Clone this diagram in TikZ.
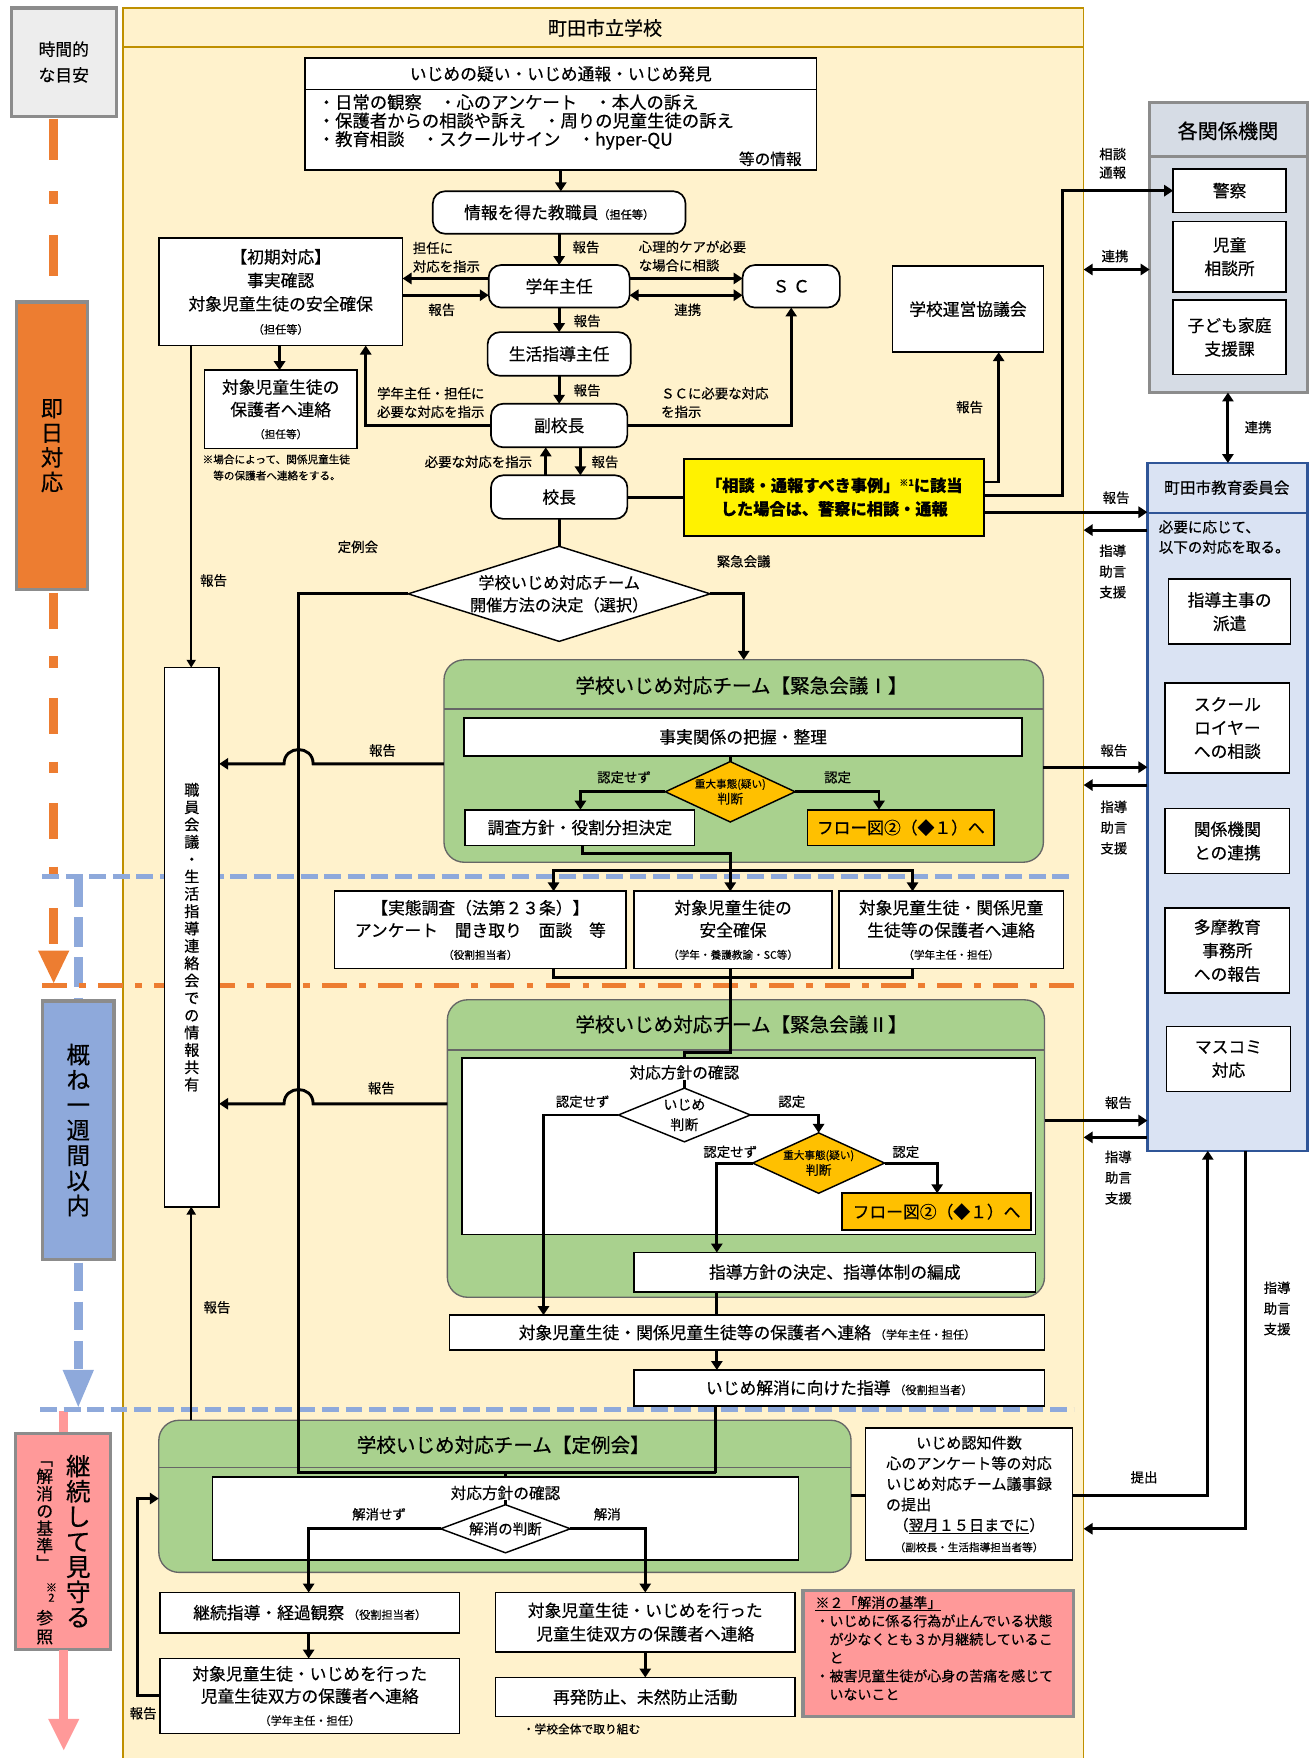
\documentclass[tikz,border=0pt]{standalone}
\usepackage{fontspec}
\setmainfont{Noto Sans CJK JP}[FakeBold=0.45]
\usetikzlibrary{arrows.meta,shapes.geometric}
\newcommand\fsz[2]{\fontsize{#1}{#2}\selectfont}
\newcommand\mybox[7]{\node[#6,minimum width={(#4)-(#2)},minimum height={(#5)-(#3)}] (#1) at ({((#2)+(#4))/2},{((#3)+(#5))/2}) {#7};}
\definecolor{schoolf}{HTML}{FFF2CC}
\definecolor{schoolb}{HTML}{BF9000}
\definecolor{greenf}{HTML}{A9D18E}
\definecolor{orangef}{HTML}{FFC000}
\definecolor{tlorange}{HTML}{ED7D31}
\definecolor{tlblue}{HTML}{8EA9DB}
\definecolor{tlpink}{HTML}{FF9999}
\definecolor{kankeif}{HTML}{D6DCE5}
\definecolor{kyoif}{HTML}{DAE3F3}
\definecolor{kyoib}{HTML}{2F5597}
\definecolor{grayb}{HTML}{8C8C8C}
\definecolor{tlgray}{HTML}{EDEDED}
\tikzset{
 bbox/.style={draw,line width=1.5pt,fill=white,align=center,inner sep=0pt,outer sep=0pt,font=\fsz{15}{20}},
 rbox/.style={bbox,rounded corners=11pt},
 tlbox/.style={draw=grayb,line width=3pt,align=center,inner sep=0pt,outer sep=0pt},
 gbox/.style={draw=black!60,line width=1.2pt,fill=greenf,rounded corners=18pt,inner sep=0pt,outer sep=0pt},
 dia/.style={diamond,draw,line width=1.3pt,fill=white,inner sep=0pt,outer sep=0pt},
 odia/.style={dia,fill=orangef},
 txt/.style={inner sep=0pt,align=center},
 lab/.style={font=\fsz{12}{16.5},align=left,inner sep=0pt},
 conn/.style={line width=2.6pt,-{Triangle[length=8pt,width=10pt]}},
 conn2/.style={line width=2.6pt,{Triangle[length=8pt,width=10pt]}-{Triangle[length=8pt,width=10pt]}},
 cline/.style={line width=2.6pt},
 tconn/.style={line width=1.8pt,-{Triangle[length=7pt,width=8pt]}},
 hdr/.style={draw=black!60,line width=1.2pt},
}
\begin{document}
\begin{tikzpicture}[x=1pt,y=-1pt]
\useasboundingbox (0,0) rectangle (1175,1572);
% ---------------- school area
\mybox{school}{110}{7}{969}{1600}{draw=schoolb,fill=schoolf,line width=1.2pt,inner sep=0pt,outer sep=0pt}{}
\draw[schoolb,line width=1.2pt] (110,42) -- (969,42);
\node[txt,font=\fsz{17}{20}] (schooltitle) at (541,25) {町田市立学校};
% ---------------- timeline
\mybox{tl}{10}{7}{104}{104}{tlbox,fill=tlgray,font=\fsz{15}{23}}{時間的\\な目安}
\draw[tlorange,line width=8pt,dash pattern=on 37pt off 28pt on 11pt off 28pt] (48,106) -- (48,270);
\mybox{soku}{15}{270}{78}{527}{tlbox,fill=tlorange,font=\fsz{20}{22}}{即\\日\\対\\応}
\draw[tlorange,line width=8pt,dash pattern=on 32pt off 25pt on 10pt off 27pt] (48,530) -- (48,852);
\fill[tlorange] (34,850) -- (62,850) -- (48,879) -- cycle;
\draw[tlblue,line width=8pt,dash pattern=on 27pt off 9pt] (70,784) -- (70,895);
\mybox{gaine}{38}{895}{102}{1126}{tlbox,fill=tlblue,font=\fsz{21}{22.5}}{概\\ね\\一\\週\\間\\以\\内}
\draw[tlblue,line width=8pt,dash pattern=on 25pt off 10pt] (70,1129) -- (70,1227);
\fill[tlblue] (56,1225) -- (84,1225) -- (70,1258) -- cycle;
\draw[tlpink,line width=8pt] (57,1262) -- (57,1282);
\mybox{keizoku}{14}{1282}{99}{1475}{tlbox,fill=tlpink}{}
\node[txt,font=\fsz{22}{22.5}] (kz1) at (70,1378) {継\\続\\し\\て\\見\\守\\る};
\node[txt,font=\fsz{15}{15.5}] (kz2) at (40,1355) {﹁\\解\\消\\の\\基\\準\\﹂};
\node[txt,font=\fsz{10}{9}] (kz3) at (46,1424) {※\\2};
\node[txt,font=\fsz{15}{17}] (kz4) at (40,1455) {参\\照};
\draw[tlpink,line width=8pt] (57,1475) -- (57,1540);
\fill[tlpink] (43,1537) -- (71,1537) -- (57,1565) -- cycle;
% horizontal guide lines
\draw[tlblue,line width=4.5pt,dash pattern=on 15pt off 6pt] (38,784) -- (960,784);
\draw[tlorange,line width=4.5pt,dash pattern=on 22pt off 11pt on 6pt off 11pt] (38,881) -- (960,881);
\draw[tlblue,line width=4.5pt,dash pattern=on 15pt off 6pt] (36,1260) -- (960,1260);
% ---------------- top part
\mybox{tophead}{273}{52}{730}{80}{bbox}{いじめの疑い・いじめ通報・いじめ発見}
\mybox{topbody}{273}{80}{730}{152}{bbox}{}
\node[anchor=north west,align=left,font=\fsz{15.5}{16.5},inner sep=0pt] (toplines) at (284,84) {・日常の観察　・心のアンケート　・本人の訴え\\・保護者からの相談や訴え　・周りの児童生徒の訴え\\・教育相談　・スクールサイン　・hyper-QU};
\node[anchor=east,font=\fsz{14}{16},inner sep=0pt] (toutou) at (717,142) {等の情報};
\mybox{joho}{387}{171}{613}{209}{rbox}{情報を得た教職員{\fsz{10}{12}（担任等）}}
\mybox{gakunen}{437}{237}{563}{275}{rbox}{学年主任}
\mybox{shoki}{142}{213}{360}{309}{bbox,font=\fsz{15}{21}}{【初期対応】\\事実確認\\対象児童生徒の安全確保\\{\fsz{10}{14}（担任等）}}
\mybox{sc}{664}{237}{751}{275}{rbox}{Ｓ Ｃ}
\mybox{seikatsu}{436}{297}{564}{336}{rbox}{生活指導主任}
\mybox{fuku}{439}{361}{561}{400}{rbox}{副校長}
\mybox{kocho}{439}{425}{561}{464}{rbox}{校長}
\mybox{hogo}{183}{331}{319}{401}{bbox,font=\fsz{15}{20}}{対象児童生徒の\\保護者へ連絡\\{\fsz{9.5}{12}（担任等）}}
\node[anchor=west,align=left,font=\fsz{9.5}{14.5},inner sep=0pt] (hogonote) at (181,418) {※場合によって、関係児童生徒\\　等の保護者へ連絡をする。};
\mybox{unei}{798}{238}{933}{315}{bbox}{学校運営協議会}
\mybox{yellow}{612}{410}{880}{479}{bbox,fill=yellow,line width=1.8pt,font=\fsz{14.5}{21}}{\textbf{「相談・通報すべき事例」{\fsz{8}{8}\raisebox{5pt}{※1}}に該当}\\\textbf{した場合は、警察に相談・通報}}
\node[dia,minimum width=270pt,minimum height=85pt] (dia1) at (500,531) {};
\node[txt,font=\fsz{14.5}{20}] (dia1t) at (500,531) {学校いじめ対応チーム\\開催方法の決定（選択）};
% ---------------- left column
\mybox{shokuin}{147}{597}{196}{1079}{bbox,font=\fsz{13.5}{15.5}}{職\\員\\会\\議\\・\\生\\活\\指\\導\\連\\絡\\会\\で\\の\\情\\報\\共\\有}
% ---------------- emergency meeting I
\mybox{kinkyu1}{397}{590}{933}{771}{gbox}{}
\draw[hdr] (kinkyu1.west |- 0,634) -- (kinkyu1.east |- 0,634);
\node[txt,font=\fsz{17.5}{20}] (k1title) at (663,613) {学校いじめ対応チーム【緊急会議Ⅰ】};
\mybox{jijitsu}{415}{642}{914}{676}{bbox}{事実関係の把握・整理}
\node[odia,minimum width=116pt,minimum height=54pt] (odia1) at (653,708) {};
\node[txt] (odia1t) at (653,708) {{\fsz{9.5}{11}重大事態(疑い)}\\[2pt]{\fsz{11.5}{13}判断}};
\mybox{chosa}{416}{724}{621}{756}{bbox}{調査方針・役割分担決定}
\mybox{flow1}{722}{724}{889}{756}{bbox,fill=orangef}{フロー図②（◆１）へ}
\mybox{jittai}{299}{797}{560}{866}{bbox,font=\fsz{15}{20}}{【実態調査（法第２３条）】\\アンケート　聞き取り　面談　等\\{\fsz{9.5}{12}（役割担当者）}}
\mybox{anzen}{567}{797}{744}{866}{bbox,font=\fsz{15}{20}}{対象児童生徒の\\安全確保\\{\fsz{9.5}{12}（学年・養護教諭・SC等）}}
\mybox{renraku1}{750}{797}{951}{866}{bbox,font=\fsz{15}{20}}{対象児童生徒・関係児童\\生徒等の保護者へ連絡\\{\fsz{9.5}{12}（学年主任・担任）}}
% ---------------- emergency meeting II
\mybox{kinkyu2}{400}{894}{934}{1160}{gbox}{}
\draw[hdr] (kinkyu2.west |- 0,939) -- (kinkyu2.east |- 0,939);
\node[txt,font=\fsz{17.5}{20}] (k2title) at (663,916) {学校いじめ対応チーム【緊急会議Ⅱ】};
\mybox{inner2}{413}{946}{926}{1104}{bbox}{}
\node[txt,font=\fsz{14}{16}] (taiou2) at (612,959) {対応方針の確認};
\node[dia,minimum width=118pt,minimum height=48pt] (idia) at (612,997) {};
\node[txt,font=\fsz{12.5}{18}] (idiat) at (612,997) {いじめ\\判断};
\node[odia,minimum width=118pt,minimum height=54pt] (odia2) at (732,1040) {};
\node[txt] (odia2t) at (732,1040) {{\fsz{9.5}{11}重大事態(疑い)}\\[2pt]{\fsz{11.5}{13}判断}};
\mybox{flow2}{753}{1067}{922}{1100}{bbox,fill=orangef}{フロー図②（◆１）へ}
\mybox{shido}{567}{1120}{926}{1155}{bbox}{指導方針の決定、指導体制の編成}
\mybox{renraku2}{402}{1176}{934}{1207}{bbox}{対象児童生徒・関係児童生徒等の保護者へ連絡 {\fsz{10}{12}（学年主任・担任）}}
\mybox{kaisho}{567}{1225}{934}{1257}{bbox}{いじめ解消に向けた指導 {\fsz{10}{12}（役割担当者）}}
% ---------------- regular meeting
\mybox{teirei}{142}{1270}{761}{1406}{gbox}{}
\draw[hdr] (teirei.west |- 0,1312) -- (teirei.east |- 0,1312);
\node[txt,font=\fsz{17.5}{20}] (t3title) at (450,1292) {学校いじめ対応チーム【定例会】};
\mybox{inner3}{190}{1321}{714}{1395}{bbox}{}
\node[txt,font=\fsz{14}{16}] (taiou3) at (452,1335) {対応方針の確認};
\node[dia,minimum width=116pt,minimum height=43pt] (kdia) at (452,1367) {};
\node[txt,font=\fsz{13}{16}] (kdiat) at (452,1367) {解消の判断};
\mybox{keizokushido}{143}{1424}{411}{1460}{bbox}{継続指導・経過観察 {\fsz{10}{12}（役割担当者）}}
\mybox{sohou1}{143}{1483}{411}{1550}{bbox,font=\fsz{15}{20}}{対象児童生徒・いじめを行った\\児童生徒双方の保護者へ連絡\\{\fsz{10}{12}（学年主任・担任）}}
\mybox{sohou2}{443}{1424}{711}{1477}{bbox,font=\fsz{15}{21}}{対象児童生徒・いじめを行った\\児童生徒双方の保護者へ連絡}
\mybox{saihatsu}{443}{1500}{711}{1535}{bbox}{再発防止、未然防止活動}
\node[txt,font=\fsz{10.5}{12}] (zentai) at (520,1546) {・学校全体で取り組む};
\mybox{teishutsu}{774}{1277}{959}{1395}{bbox,font=\fsz{13.5}{18.4}}{いじめ認知件数\\心のアンケート等の対応\\いじめ対応チーム議事録\\\makebox[11em][l]{の提出}\\（\underline{翌月１５日までに}）\\{\fsz{9.5}{12}（副校長・生活指導担当者等）}}
\mybox{pnote}{718}{1422}{960}{1535}{tlbox,fill=tlpink}{}
\node[anchor=north west,align=left,font=\fsz{12.5}{16.4},inner sep=0pt] (pnotet) at (729,1427) {\underline{※２「解消の基準」}\\・いじめに係る行為が止んでいる状態\\　が少なくとも３か月継続しているこ\\　と\\・被害児童生徒が心身の苦痛を感じて\\　いないこと};
% ---------------- right column
\mybox{kankei}{1028}{92}{1169}{351}{tlbox,fill=kankeif,line width=2.5pt}{}
\draw[grayb,line width=2pt] (kankei.west |- 0,140) -- (kankei.east |- 0,140);
\node[txt,font=\fsz{18}{20}] (kankeit) at (1098,117) {各関係機関};
\mybox{keisatsu}{1049}{151}{1150}{190}{bbox}{警察}
\mybox{jisou}{1049}{198}{1150}{261}{bbox,font=\fsz{15}{21}}{児童\\相談所}
\mybox{kodomo}{1049}{268}{1150}{335}{bbox,font=\fsz{15}{21}}{子ども家庭\\支援課}
\mybox{kyoi}{1026}{414}{1169}{1029}{draw=kyoib,fill=kyoif,line width=2.2pt,inner sep=0pt,outer sep=0pt}{}
\draw[kyoib,line width=1.8pt] (kyoi.west |- 0,459) -- (kyoi.east |- 0,459);
\node[txt,font=\fsz{14}{16}] (kyoit) at (1097,436) {町田市教育委員会};
\node[anchor=north west,align=left,font=\fsz{13}{18},inner sep=0pt] (kyoinote) at (1036,465) {必要に応じて、\\以下の対応を取る。};
\mybox{haken}{1045}{518}{1154}{576}{bbox,font=\fsz{15}{21}}{指導主事の\\派遣}
\mybox{lawyer}{1042}{611}{1153}{691}{bbox,font=\fsz{15}{21}}{スクール\\ロイヤー\\への相談}
\mybox{renkei}{1042}{723}{1153}{781}{bbox,font=\fsz{15}{21}}{関係機関\\との連携}
\mybox{tama}{1042}{812}{1153}{888}{bbox,font=\fsz{15}{21}}{多摩教育\\事務所\\への報告}
\mybox{masukomi}{1043}{918}{1154}{976}{bbox,font=\fsz{15}{21}}{マスコミ\\対応}
% ---------------- connectors: top
\draw[conn] (topbody.south) -- (topbody.south |- joho.north);
\draw[conn] (joho.south) -- (joho.south |- gakunen.north);
\node[lab] (l1) at (524,221) {報告};
\draw[conn] (gakunen.west |- 0,249) -- (shoki.east |- 0,249);
\node[lab,anchor=west] (l2) at (369,230) {担任に\\対応を指示};
\draw[conn] (shoki.east |- 0,264) -- (gakunen.west |- 0,264);
\node[lab] (l3) at (395,277) {報告};
\draw[conn] (gakunen.east |- 0,249) -- (sc.west |- 0,249);
\node[lab,anchor=west] (l4) at (571,229) {心理的ケアが必要\\な場合に相談};
\draw[conn2] (gakunen.east |- 0,264) -- (sc.west |- 0,264);
\node[lab] (l5) at (615,277) {連携};
\draw[conn] (gakunen.south) -- (gakunen.south |- seikatsu.north);
\node[lab] (l6) at (525,287) {報告};
\draw[conn] (seikatsu.south) -- (seikatsu.south |- fuku.north);
\node[lab] (l7) at (525,349) {報告};
\draw[conn] (fuku.west) -- (fuku.west -| 327,0) -- (327,0 |- shoki.south);
\node[lab,anchor=west] (l8) at (337,360) {学年主任・担任に\\必要な対応を指示};
\draw[conn] (fuku.east) -- (fuku.east -| sc.south) -- (sc.south);
\node[lab,anchor=west] (l9) at (591,360) {ＳＣに必要な対応\\を指示};
\draw[conn] (488,0 |- kocho.north) -- (488,0 |- fuku.south);
\node[lab,anchor=east] (l10) at (476,413) {必要な対応を指示};
\draw[conn] (519,0 |- fuku.south) -- (519,0 |- kocho.north);
\node[lab] (l11) at (541,413) {報告};
\draw[cline] (kocho.east) -- (kocho.east -| yellow.west);
\draw[conn] (yellow.east |- 0,431) -- (893,431) -- (893,0 |- unei.south);
\node[lab] (l12) at (867,364) {報告};
\draw[conn] (yellow.east |- 0,443) -- (950,443) -- (950,0 |- keisatsu.west) -- (keisatsu.west);
\node[lab] (l13) at (995,146) {相談\\通報};
\draw[conn] (yellow.east |- 0,458) -- (kyoi.west |- 0,458);
\node[lab] (l14) at (998,445) {報告};
\draw[conn] (kyoi.west |- 0,474) -- (school.east |- 0,474);
\node[lab,font=\fsz{12}{18.5}] (l15) at (995,511) {指導\\助言\\支援};
\draw[conn2] (school.east |- 0,241) -- (kankei.west |- 0,241);
\node[lab] (l16) at (997,229) {連携};
\draw[conn2] (1098,0 |- kankei.south) -- (1098,0 |- kyoi.north);
\node[lab] (l17) at (1125,382) {連携};
\draw[cline] (kocho.south) -- (kocho.south |- dia1.north);
\draw[conn] (dia1.east) -- (dia1.east -| 665,0) -- (665,0 |- kinkyu1.north);
\node[lab] (l18) at (665,502) {緊急会議};
\node[lab] (l19) at (320,489) {定例会};
\draw[cline] (dia1.west) -- (dia1.west -| 267,0) -- (267,1317) -- (640,1317);
\draw[cline] (640,0 |- kaisho.south) -- (640,1317);
\draw[cline] (452,1317) -- (452,0 |- inner3.north);
\draw[tconn] (171,0 |- shoki.south) -- (171,0 |- shokuin.north);
\node[lab] (l20) at (191,519) {報告};
\draw[conn] (250,0 |- shoki.south) -- (250,0 |- hogo.north);
% ---------------- connectors: meeting I
\draw[conn] (kinkyu1.west |- 0,683) -- (280,683) .. controls (280,666) and (254,666) .. (254,683) -- (shokuin.east |- 0,683);
\node[lab] (l21) at (342,671) {報告};
\draw[conn] (kinkyu1.east |- 0,686) -- (kyoi.west |- 0,686);
\node[lab] (l22) at (996,671) {報告};
\draw[conn] (kyoi.west |- 0,702) -- (school.east |- 0,702);
\node[lab,font=\fsz{12}{18.5}] (l23) at (996,740) {指導\\助言\\支援};
\draw[cline] (odia1.north |- jijitsu.south) -- (odia1.north);
\draw[conn] (odia1.west) -- (odia1.west -| 519,0) -- (519,0 |- chosa.north);
\node[lab] (l24) at (558,695) {認定せず};
\draw[conn] (odia1.east) -- (odia1.east -| 786,0) -- (786,0 |- flow1.north);
\node[lab] (l25) at (749,695) {認定};
\draw[conn] (521,0 |- chosa.south) -- (521,763) -- (653,763) -- (653,0 |- anzen.north);
\draw[conn] (653,778) -- (495,778) -- (495,0 |- jittai.north);
\draw[conn] (653,778) -- (816,778) -- (816,0 |- renraku1.north);
\draw[cline] (495,0 |- jittai.south) -- (495,874) -- (816,874) -- (816,0 |- renraku1.south);
\draw[cline] (653,0 |- anzen.south) -- (653,941) -- (612,941) -- (612,0 |- inner2.north);
% ---------------- connectors: meeting II
\draw[line width=2pt] (taiou2.south) -- (idia.north);
\draw[conn] (idia.west) -- (idia.west -| 486,0) -- (486,0 |- renraku2.north);
\node[lab] (l26) at (521,985) {認定せず};
\draw[conn] (idia.east) -- (idia.east -| odia2.north) -- (odia2.north);
\node[lab] (l27) at (708,985) {認定};
\draw[conn] (odia2.west) -- (odia2.west -| 641,0) -- (641,0 |- shido.north);
\node[lab] (l28) at (653,1030) {認定せず};
\draw[conn] (odia2.east) -- (odia2.east -| 838,0) -- (838,0 |- flow2.north);
\node[lab] (l29) at (810,1030) {認定};
\draw[cline] (641,0 |- shido.south) -- (641,0 |- renraku2.north);
\draw[conn] (641,0 |- renraku2.south) -- (641,0 |- kaisho.north);
\draw[conn] (kinkyu2.west |- 0,987) -- (280,987) .. controls (280,970) and (254,970) .. (254,987) -- (shokuin.east |- 0,987);
\node[lab] (l30) at (341,973) {報告};
\draw[conn] (kinkyu2.east |- 0,1002) -- (kyoi.west |- 0,1002);
\node[lab] (l31) at (1000,986) {報告};
\draw[conn] (kyoi.west |- 0,1017) -- (school.east |- 0,1017);
\node[lab,font=\fsz{12}{18.5}] (l32) at (1000,1053) {指導\\助言\\支援};
% ---------------- connectors: regular meeting
\draw[tconn] (171,0 |- teirei.north) -- (171,0 |- shokuin.south);
\node[lab] (l33) at (194,1169) {報告};
\draw[line width=2pt] (taiou3.south) -- (kdia.north);
\draw[conn] (kdia.west) -- (kdia.west -| 276,0) -- (276,0 |- keizokushido.north);
\node[lab] (l34) at (339,1354) {解消せず};
\draw[conn] (kdia.east) -- (kdia.east -| 577,0) -- (577,0 |- sohou2.north);
\node[lab] (l35) at (543,1354) {解消};
\draw[conn] (276,0 |- keizokushido.south) -- (276,0 |- sohou1.north);
\draw[conn] (sohou1.west |- 0,1516) -- (123,1516) -- (123,1340) -- (teirei.west |- 0,1340);
\node[lab] (l36) at (128,1532) {報告};
\draw[conn] (577,0 |- sohou2.south) -- (577,0 |- saihatsu.north);
\draw[cline] (teirei.east |- 0,1337) -- (teishutsu.west |- 0,1337);
\draw[conn] (teishutsu.east |- 0,1337) -- (1080,1337) -- (1080,0 |- kyoi.south);
\node[lab] (l37) at (1023,1321) {提出};
\draw[conn] (1114,0 |- kyoi.south) -- (1114,1367) -- (school.east |- 0,1367);
\node[lab,font=\fsz{12}{18.5}] (l38) at (1142,1170) {指導\\助言\\支援};
\end{tikzpicture}
\end{document}
